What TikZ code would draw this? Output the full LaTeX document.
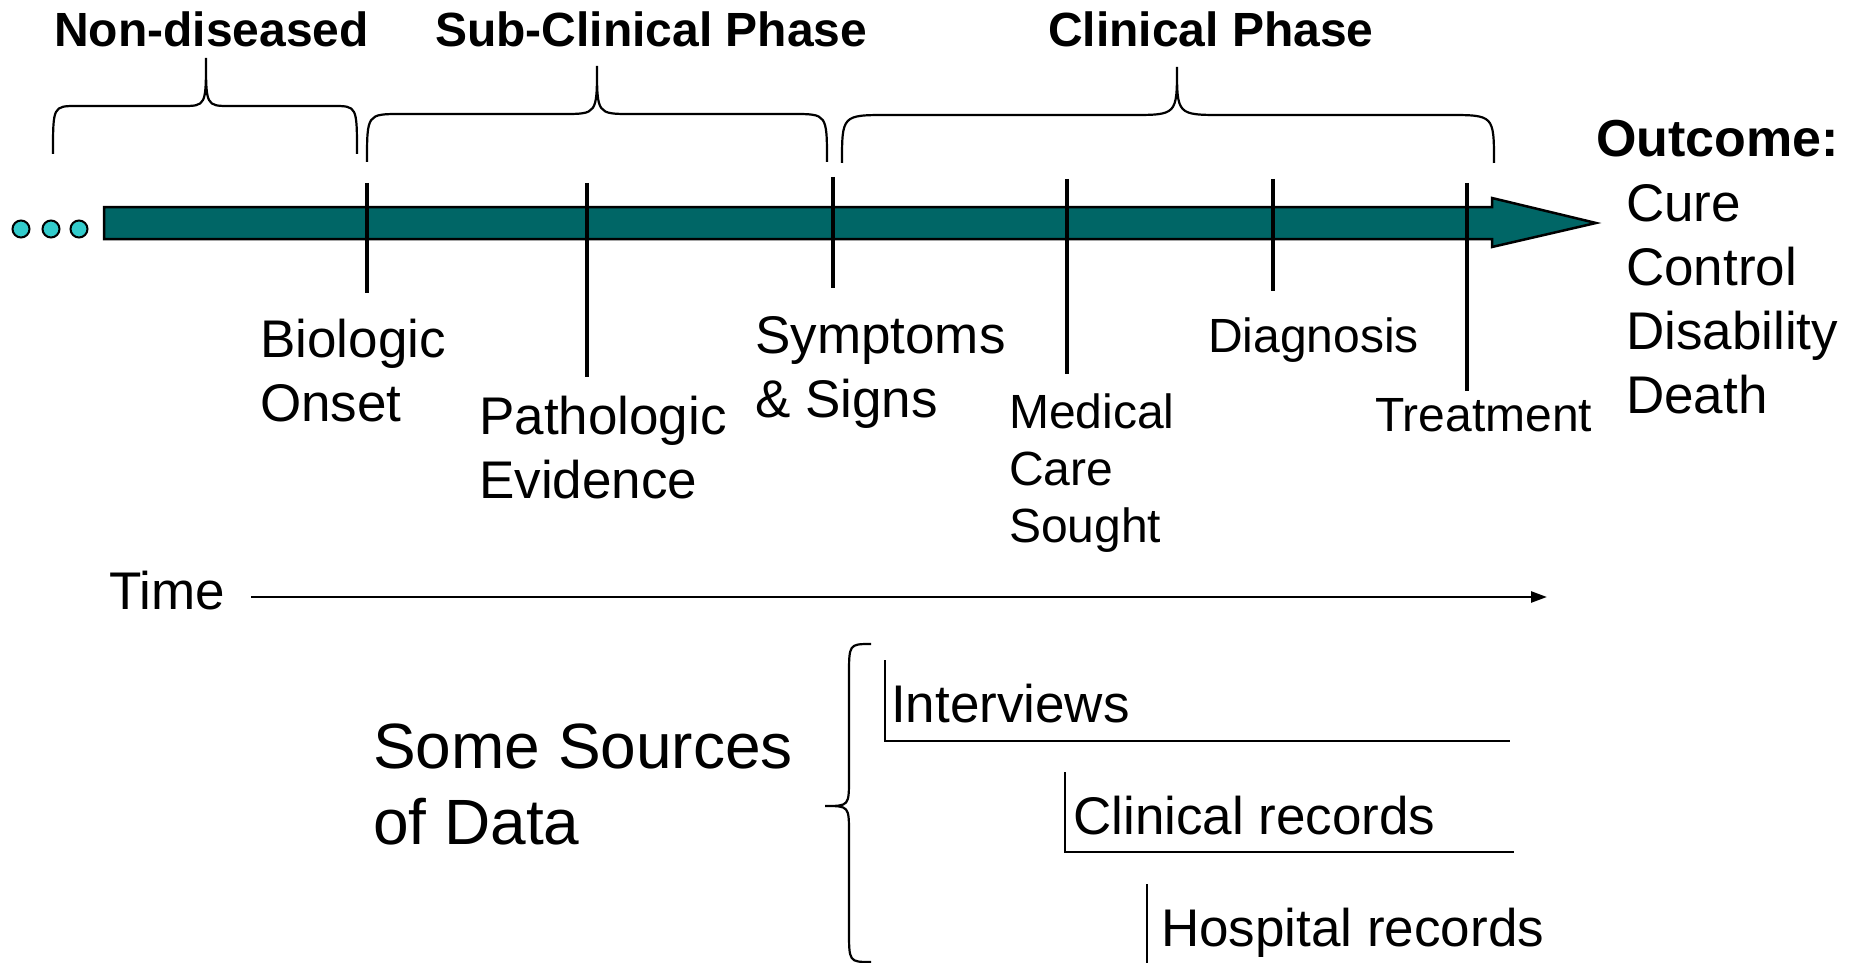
\documentclass[tikz,border=0pt]{standalone}
\usepackage{fontspec}
\setmainfont{Liberation Sans}
\usetikzlibrary{arrows.meta}

\definecolor{shaftfill}{HTML}{006666}
\definecolor{dotfill}{HTML}{33CCCC}

\newcommand\labelfont{\fontsize{53}{64}\selectfont}
\newcommand\smalllabelfont{\fontsize{48}{57}\selectfont}
\newcommand\headfont{\bfseries\fontsize{48}{58}\selectfont}
\newcommand\sourcefont{\fontsize{64}{76}\selectfont}

% curly brace over a phase: left end, right end, cusp x, end y, flat y, tip y, corner size
\newcommand\phasebrace[7]{%
  \draw[bracestroke] (#1,#4) .. controls (#1,#5) .. (#1+#7,#5) -- (#3-#7,#5)
    .. controls (#3,#5) .. (#3,#6) .. controls (#3,#5) .. (#3+#7,#5)
    -- (#2-#7,#5) .. controls (#2,#5) .. (#2,#4);}

\begin{document}
\begin{tikzpicture}[x=1pt,y=-1pt,
  lbl/.style={anchor=base west, inner sep=0pt, align=left, font=\labelfont},
  smalllbl/.style={lbl, font=\smalllabelfont},
  head/.style={anchor=base west, inner sep=0pt, font=\headfont},
  tick/.style={line width=4pt},
  bracestroke/.style={line width=2.2pt},
  bracket/.style={line width=2.5pt},
  dot/.style={circle, draw=black, line width=2pt, fill=dotfill, minimum size=17pt, inner sep=0pt}]
\useasboundingbox (0,0) rectangle (1856,963);

% phase headings
\node[head] (nondis) at (54,47) {Non-diseased};
\node[head] (subclin) at (435,47) {Sub-Clinical Phase};
\node[head] (clin) at (1048,47) {Clinical Phase};

% braces under the headings
\phasebrace{53}{357}{206}{154}{106}{58}{24}
\phasebrace{367}{827}{597}{162}{114}{66}{34}
\phasebrace{842}{1494}{1177}{163}{115}{67}{46}

% leading dots
\node[dot] (d1) at (21,229) {};
\node[dot] (d2) at (51,229) {};
\node[dot] (d3) at (79,229) {};

% the disease course arrow
\draw[fill=shaftfill, line width=2.5pt, line join=miter]
  (104,207) -- (1492,207) -- (1492,198) -- (1596,223) -- (1492,247)
  -- (1492,239) -- (104,239) -- cycle;

% event marks
\draw[tick] (367,183) -- (367,293);
\draw[tick] (587,183) -- (587,377);
\draw[tick] (833,177) -- (833,288);
\draw[tick] (1067,179) -- (1067,374);
\draw[tick] (1273,179) -- (1273,291);
\draw[tick] (1467,183) -- (1467,391);

% event labels (base anchor sits on the last line)
\node[lbl] (onset) at (260,421) {Biologic\\Onset};
\node[lbl] (patho) at (479,498) {Pathologic\\Evidence};
\node[lbl] (sympt) at (755,417) {Symptoms\\\& Signs};
\node[smalllbl] (care) at (1009,542) {Medical\\Care\\Sought};
\node[smalllbl] (diag) at (1208,352) {Diagnosis};
\node[smalllbl] (treat) at (1375,431) {Treatment};

% outcomes
\node[anchor=base west, inner sep=0pt, font=\bfseries\fontsize{52}{62}\selectfont] (outc) at (1596,157) {Outcome:};
\node[lbl] (outlist) at (1626,413) {Cure\\Control\\Disability\\Death};

% time axis
\node[lbl] (time) at (109,609) {Time};
\coordinate (timeend) at (1547,597);
\draw[line width=2.5pt, -{Triangle[length=16pt,width=11pt]}] (251,597) -- (timeend);

% data sources
\node[anchor=base west, inner sep=0pt, align=left, font=\sourcefont] (sources) at (373,844) {Some Sources\\of Data};
\draw[bracestroke] (871,644) .. controls (849,644) .. (849,676) -- (849,778)
  .. controls (849,806) .. (825,806) .. controls (849,806) .. (849,834)
  -- (849,930) .. controls (849,962) .. (871,962);

\node[lbl] (interv) at (891,722) {Interviews};
\node[lbl] (clinrec) at (1073,834) {Clinical records};
\node[lbl] (hosprec) at (1161,946) {Hospital records};

\draw[bracket] (885,660) -- (885,741) -- (1510,741);
\draw[bracket] (1065,772) -- (1065,852) -- (1514,852);
\draw[bracket] (1147,884) -- (1147,963);
\end{tikzpicture}
\end{document}
